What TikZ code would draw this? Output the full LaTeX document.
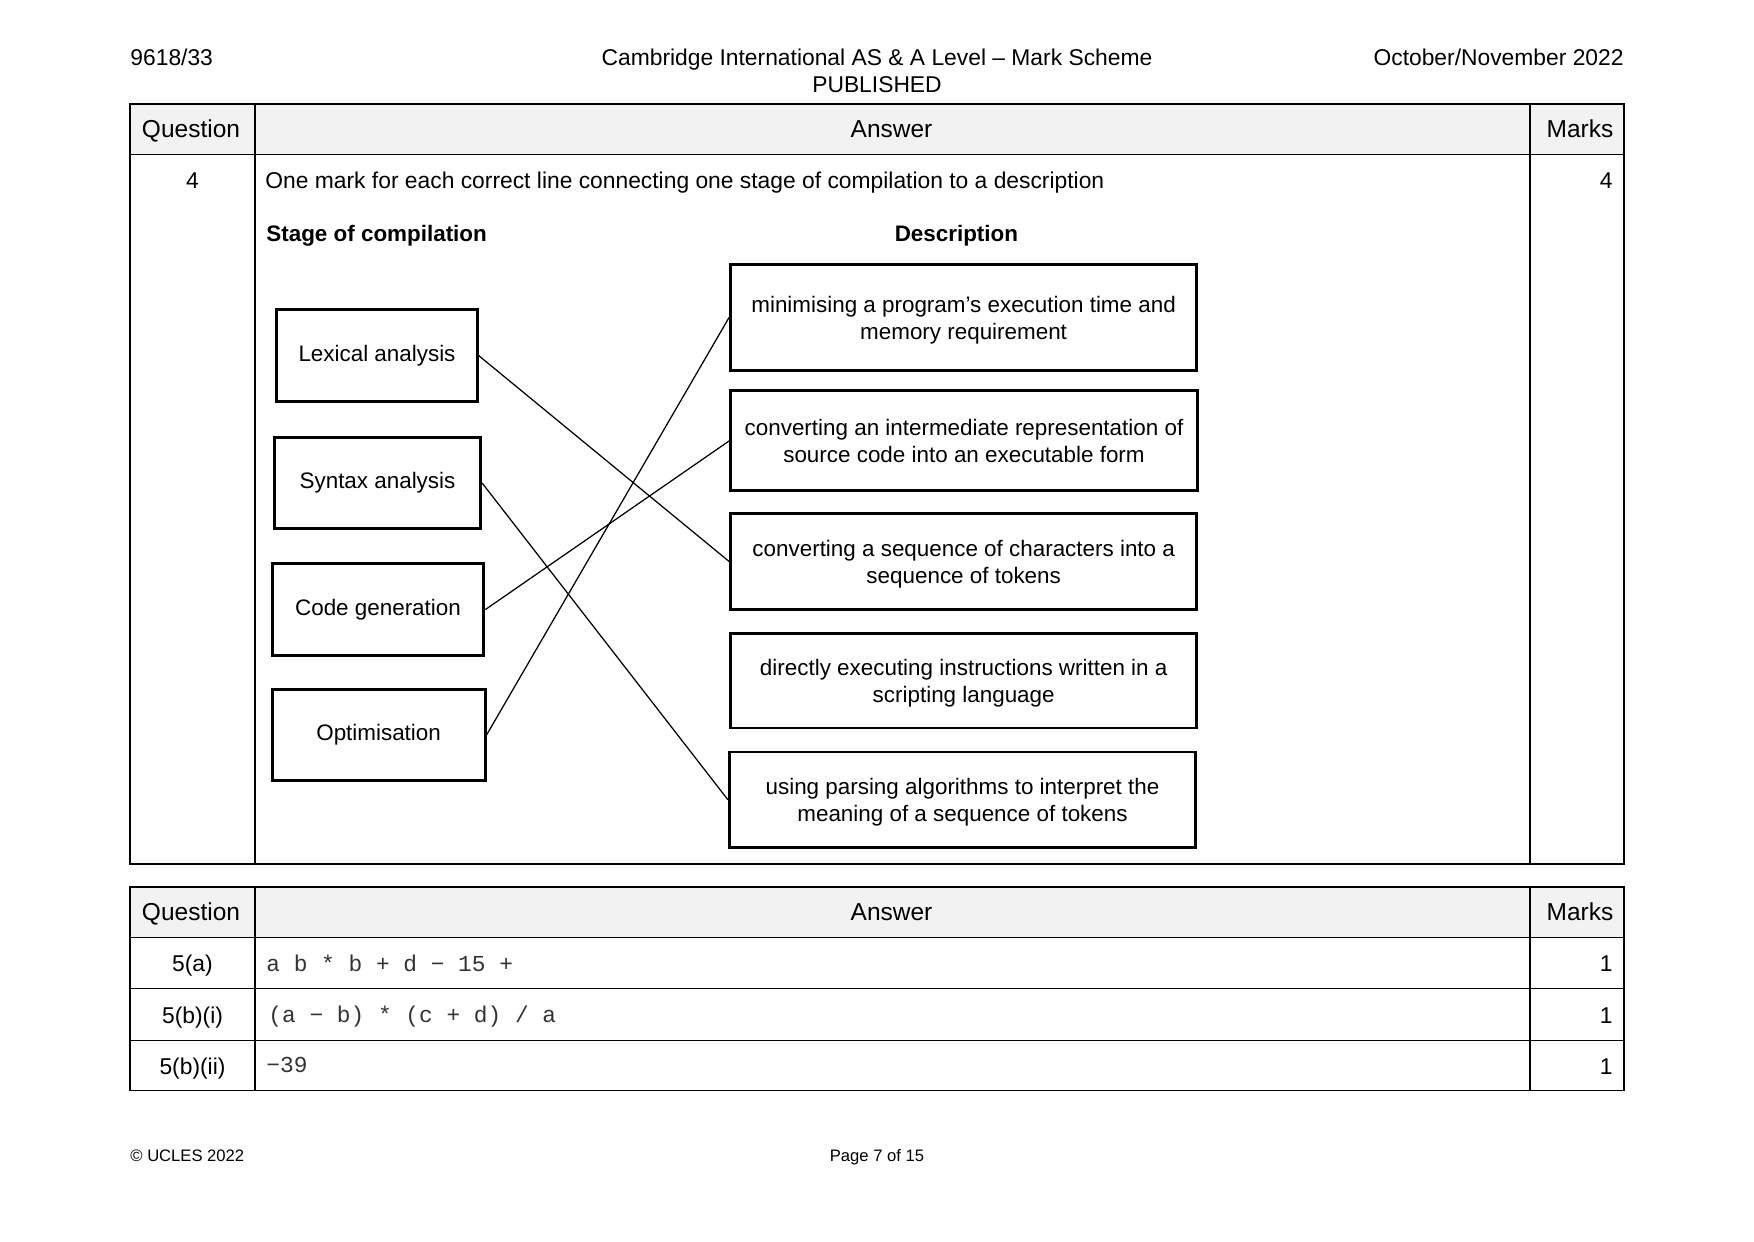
\documentclass[tikz,border=0pt]{standalone}
\usepackage{fontspec}
\setmainfont{Liberation Sans}
\setmonofont{Liberation Mono}
\definecolor{hdrgrey}{RGB}{242,242,242}

\begin{document}
\begin{tikzpicture}[x=0.16933mm,y=-0.16933mm,
  every node/.style={inner sep=0pt,text height=0.86em,text depth=0pt,font=\fontsize{11}{13}\selectfont},
  headtext/.style={font=\fontsize{11.8}{14}\selectfont},
  stagebox/.style={draw,line width=1.4pt,minimum height=44.2pt,text height={},text depth={},font=\fontsize{10.8}{13}\selectfont},
  descbox/.style={draw,line width=1.4pt,minimum width=224.6pt,align=center,text height={},text depth=0pt,font=\fontsize{10.8}{13}\selectfont},
  monotext/.style={anchor=west,text height={},text depth={},text=black!80,font=\fontsize{11}{13}\ttfamily}]
\useasboundingbox (0,0) rectangle (1754,1241);

% Text Node
\node (paper) [anchor=west] at (130,57) {9618/33};
% Text Node
\node (title) at (877,57) {Cambridge International AS \& A Level -- Mark Scheme};
% Text Node
\node (status) at (877,84) {PUBLISHED};
% Text Node
\node (session) [anchor=east] at (1624,57) {October/November 2022};

%Shape: Rectangle (first table)
\draw [line width=0.5pt,fill=hdrgrey] (130,104) rectangle (1624,154.4);
\draw [line width=0.5pt] (130,104) rectangle (1624,864);
\draw [line width=0.5pt] (255,104) -- (255,864);
\draw [line width=0.5pt] (1530,104) -- (1530,864);

% Text Node
\node (qhead) [headtext] at (191,129) {Question};
\node (ahead) [headtext] at (891.5,129) {Answer};
\node (mhead) [headtext] at (1580,129) {Marks};
\node (qfour) at (192.5,180) {4};
\node (mfour) [anchor=east] at (1613,180) {4};
\node (intro) [anchor=west] at (265,180) {One mark for each correct line connecting one stage of compilation to a description};
\node (stagehead) [anchor=west,font=\fontsize{10.8}{13}\selectfont\bfseries] at (266,232.7) {Stage of compilation};
\node (deschead) [font=\fontsize{10.8}{13}\selectfont\bfseries] at (956.4,232.7) {Description};

%Shape: Rectangle (stages)
\node (lexical) [stagebox,minimum width=96.5pt] at (377,355.5) {Lexical analysis};
\node (syntax) [stagebox,minimum width=99.4pt] at (377.5,483) {Syntax analysis};
\node (codegen) [stagebox,minimum width=102pt] at (378,609.6) {Code generation};
\node (optim) [stagebox,minimum width=102.6pt] at (378.6,735) {Optimisation};

%Shape: Rectangle (descriptions)
\node (minimise) [descbox,minimum height=50.9pt] at (963.6,317.5) {minimising a program’s execution time and\\memory requirement};
\node (intermediate) [descbox,minimum height=48.3pt] at (964,440.7) {converting an intermediate representation of\\source code into an executable form};
\node (tokens) [descbox,minimum height=46.2pt] at (963.7,561.5) {converting a sequence of characters into a\\sequence of tokens};
\node (scripting) [descbox,minimum height=45.6pt] at (963.7,680.7) {directly executing instructions written in a\\scripting language};
\node (parsing) [descbox,minimum height=46.1pt] at (962.5,799.8) {using parsing algorithms to interpret the\\meaning of a sequence of tokens};

%Straight Lines
\draw [line width=0.6pt] (lexical.east) -- (tokens.west);
\draw [line width=0.6pt] (syntax.east) -- (parsing.west);
\draw [line width=0.6pt] (codegen.east) -- (intermediate.west);
\draw [line width=0.6pt] (optim.east) -- (minimise.west);

%Shape: Rectangle (second table)
\draw [line width=0.5pt,fill=hdrgrey] (130,887) rectangle (1624,937.4);
\draw [line width=0.5pt] (130,887) rectangle (1624,1090.6);
\draw [line width=0.5pt] (130,988.9) -- (1624,988.9);
\draw [line width=0.5pt] (130,1040.3) -- (1624,1040.3);
\draw [line width=0.5pt] (255,887) -- (255,1090.6);
\draw [line width=0.5pt] (1530,887) -- (1530,1090.6);

% Text Node
\node (qhead2) [headtext] at (191,912) {Question};
\node (ahead2) [headtext] at (891.5,912) {Answer};
\node (mhead2) [headtext] at (1580,912) {Marks};
\node (qa) at (192.5,963) {5(a)};
\node (qbi) at (192.5,1014.6) {5(b)(i)};
\node (qbii) at (192.5,1065.5) {5(b)(ii)};
\node (ansa) [monotext] at (266,963) {a b * b + d − 15 +};
\node (ansbi) [monotext] at (268,1016.8) {(a − b) * (c + d) / a};
\node (ansbii) [monotext] at (266,1064.5) {−39};
\node (ma) [anchor=east] at (1613,963) {1};
\node (mbi) [anchor=east] at (1613,1014.6) {1};
\node (mbii) [anchor=east] at (1613,1065.5) {1};

% Text Node
\node (ucles) [anchor=west,font=\fontsize{8}{10}\selectfont] at (130,1153) {© UCLES 2022};
\node (page) [font=\fontsize{8}{10}\selectfont] at (877,1153) {Page 7 of 15};

\end{tikzpicture}
\end{document}
